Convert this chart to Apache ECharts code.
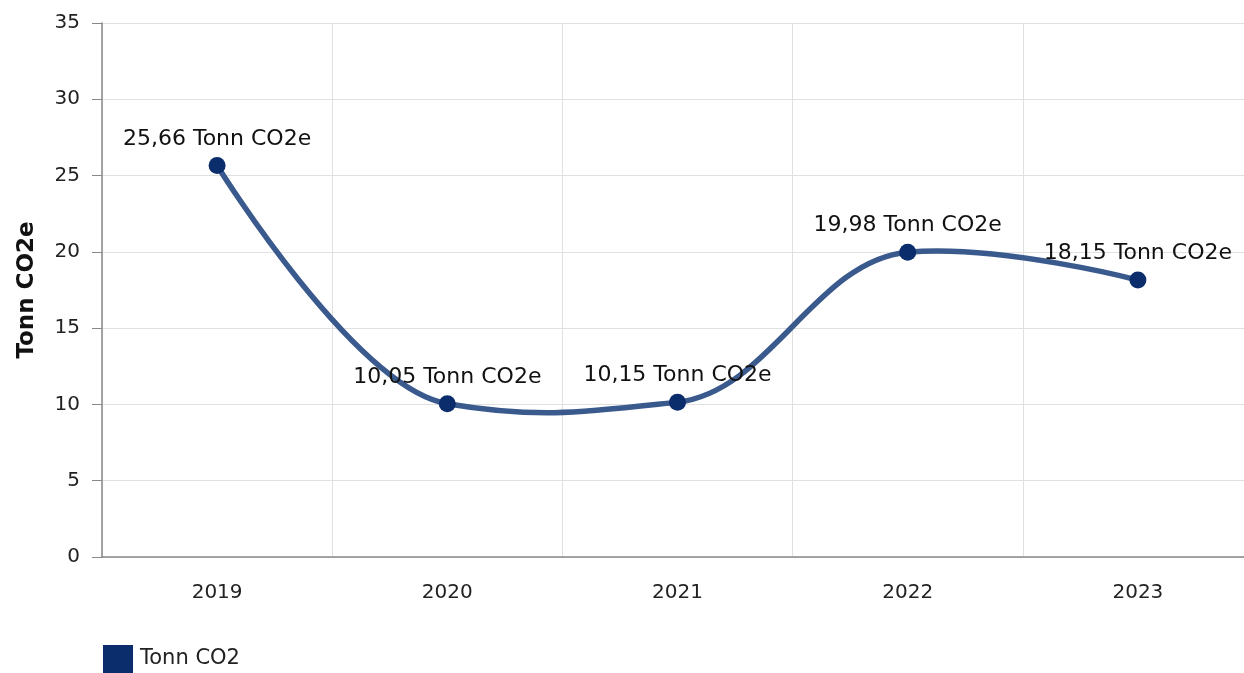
<!DOCTYPE html>
<html>
<head>
<meta charset="utf-8">
<script src="https://cdn.jsdelivr.net/npm/echarts@6/dist/echarts.min.js"></script>
<style>
  html, body { margin: 0; padding: 0; background: #fff; }
  #chart { width: 1244px; height: 673px; }
</style>
</head>
<body>
<div id="chart"></div>
<script>
const years = ['2019', '2020', '2021', '2022', '2023'];
const co2Values = [25.66, 10.05, 10.15, 19.98, 18.15];
const seriesName = 'Tonn CO2';
const axisName = 'Tonn CO2e';
const unit = 'Tonn CO2e';

const font = '"DejaVu Sans", Verdana, sans-serif';

// soft cardinal-style spline through the data points (pixel coords from the axes)
function splineItem(params, api) {
  if (params.dataIndex !== 0) return null;
  const pts = co2Values.map((v, i) => api.coord([i, v]));
  const n = pts.length;
  const slopes = pts.map((p, i) => {
    if (i === 0 || i === n - 1) return null;
    const a = pts[i - 1], b = pts[i + 1];
    return 0.33 * (b[1] - a[1]) / (b[0] - a[0]);
  });
  let d = 'M' + pts[0][0] + ' ' + pts[0][1];
  for (let i = 1; i < n; i++) {
    const p0 = pts[i - 1], p1 = pts[i];
    const h = 0.4 * (p1[0] - p0[0]);
    const c1 = slopes[i - 1] === null ? p0 : [p0[0] + h, p0[1] + slopes[i - 1] * h];
    const c2 = slopes[i] === null ? p1 : [p1[0] - h, p1[1] - slopes[i] * h];
    d += ' C' + c1[0] + ' ' + c1[1] + ' ' + c2[0] + ' ' + c2[1] + ' ' + p1[0] + ' ' + p1[1];
  }
  return {
    type: 'path',
    shape: { pathData: d },
    style: { fill: 'none', stroke: '#3a5a8e', lineWidth: 5.5, lineCap: 'round', lineJoin: 'round' },
  };
}

const option = {
  backgroundColor: '#fff',
  textStyle: { fontFamily: font },
  grid: {
    left: 102,
    width: 1151,
    top: 23,
    bottom: 116,
    outerBoundsMode: 'none',
  },
  legend: {
    left: 103,
    bottom: 0,
    padding: 0,
    itemWidth: 30,
    itemHeight: 28,
    itemGap: 10,
    icon: 'rect',
    textStyle: { fontFamily: font, fontSize: 21, color: '#222', padding: [0, 0, 0, 2] },
    data: [seriesName],
  },
  xAxis: {
    type: 'category',
    data: years,
    boundaryGap: true,
    axisLine: { lineStyle: { color: '#888', width: 1.5 } },
    axisTick: { alignWithLabel: true, length: 9, lineStyle: { color: '#888' } },
    axisLabel: { color: '#222', fontSize: 20, margin: 26, fontFamily: font },
    splitLine: { show: true, lineStyle: { color: '#e0e0e0', width: 1 } },
  },
  yAxis: {
    type: 'value',
    min: 0,
    max: 35,
    interval: 5,
    name: axisName,
    nameLocation: 'middle',
    nameGap: 63,
    nameTextStyle: { fontFamily: font, fontSize: 23, fontWeight: 'bold', color: '#111' },
    axisLine: { show: true, lineStyle: { color: '#888', width: 1.5 } },
    axisTick: { show: true, length: 10, lineStyle: { color: '#888' } },
    axisLabel: { color: '#222', fontSize: 20, margin: 22, fontFamily: font },
    splitLine: { lineStyle: { color: '#e0e0e0', width: 1 } },
  },
  series: [
    {
      type: 'custom',
      z: 2,
      silent: true,
      clip: false,
      renderItem: splineItem,
      data: co2Values.map((v, i) => [i, v]),
    },
    {
      name: seriesName,
      type: 'line',
      z: 3,
      data: co2Values,
      symbol: 'circle',
      symbolSize: 17,
      itemStyle: { color: '#0b2d6c' },
      lineStyle: { width: 0, opacity: 0 },
      label: {
        show: true,
        position: 'top',
        distance: 7,
        color: '#111',
        fontSize: 22,
        fontFamily: font,
        formatter: (p) => p.value.toFixed(2).replace('.', ',') + ' ' + unit,
      },
      labelLayout: { hideOverlap: false },
    },
  ],
};

const myChart = echarts.init(document.getElementById('chart'));
myChart.setOption(option);
</script>
</body>
</html>
